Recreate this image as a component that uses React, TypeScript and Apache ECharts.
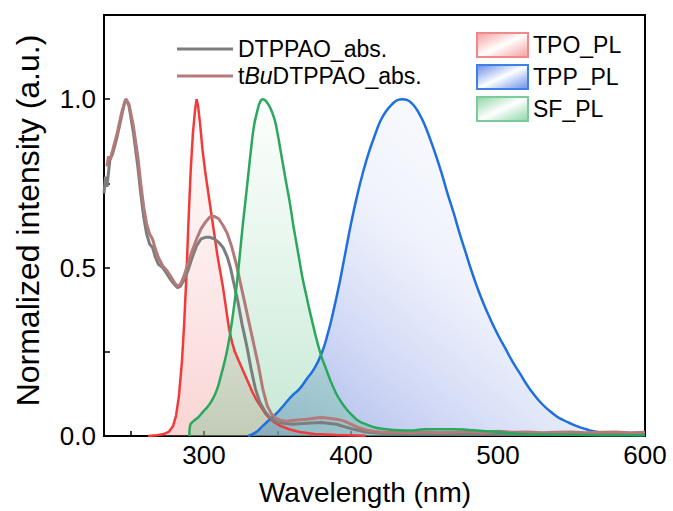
import React, { useEffect, useRef } from "react";
import * as echarts from "echarts";

const FONT = "'Liberation Sans', Arial, Helvetica, sans-serif";

// wavelength ticks / labels
const xTickValues = [250, 300, 350, 400, 450, 500, 550, 600];
const xLabelValues = [300, 400, 500, 600];

// absorption spectra [wavelength nm, normalized intensity]
const dtppaoAbs: [number, number][] = [
  [232, 0.72], [233, 0.77], [234, 0.74], [235, 0.78], [236, 0.82], [238, 0.84], [241, 0.89],
  [244, 0.95], [246, 0.99], [247, 1.0], [249, 0.98], [252, 0.9], [255, 0.8], [257, 0.72],
  [259, 0.65], [261, 0.6], [263, 0.57], [265, 0.56], [267, 0.53], [269, 0.51], [272, 0.5],
  [275, 0.48], [278, 0.46], [280, 0.45], [282, 0.44], [284, 0.445], [286, 0.46], [289, 0.49],
  [292, 0.53], [295, 0.565], [298, 0.585], [301, 0.59], [304, 0.59], [307, 0.585], [310, 0.575],
  [313, 0.56], [316, 0.53], [318, 0.5], [320, 0.46], [323, 0.4], [326, 0.33], [329, 0.27],
  [332, 0.2], [335, 0.14], [338, 0.1], [342, 0.07], [346, 0.05], [350, 0.04], [360, 0.035],
  [370, 0.038], [380, 0.04], [390, 0.035], [400, 0.022], [410, 0.012], [420, 0.008], [440, 0.007],
  [460, 0.008], [480, 0.006], [500, 0.007], [520, 0.006], [540, 0.005], [560, 0.006], [580, 0.005],
  [600, 0.005],
];

const tbuAbs: [number, number][] = [
  [234, 0.8], [235, 0.83], [236, 0.82], [238, 0.85], [241, 0.9], [244, 0.96], [246, 0.99],
  [247, 1.0], [249, 0.985], [252, 0.92], [255, 0.83], [257, 0.75], [259, 0.68], [261, 0.63],
  [263, 0.6], [265, 0.585], [267, 0.555], [269, 0.53], [272, 0.505], [275, 0.49], [278, 0.47],
  [280, 0.455], [282, 0.445], [284, 0.45], [286, 0.47], [289, 0.51], [292, 0.55], [295, 0.585],
  [298, 0.615], [301, 0.635], [304, 0.65], [307, 0.652], [310, 0.645], [313, 0.625], [316, 0.6],
  [319, 0.56], [322, 0.51], [325, 0.45], [328, 0.39], [331, 0.33], [334, 0.27], [337, 0.21],
  [340, 0.14], [343, 0.09], [346, 0.065], [349, 0.052], [352, 0.047], [356, 0.044], [360, 0.046],
  [365, 0.048], [370, 0.05], [375, 0.053], [380, 0.055], [385, 0.053], [390, 0.05], [395, 0.045],
  [400, 0.035], [405, 0.025], [410, 0.018], [415, 0.014], [420, 0.012], [430, 0.011], [440, 0.01],
  [450, 0.012], [460, 0.01], [470, 0.011], [480, 0.013], [490, 0.01], [500, 0.014], [510, 0.011],
  [520, 0.012], [530, 0.01], [540, 0.011], [550, 0.012], [560, 0.01], [570, 0.011], [580, 0.012],
  [590, 0.01], [600, 0.011],
];

// photoluminescence spectra
const tpoPL: [number, number][] = [
  [262, 0], [268, 0.002], [272, 0.005], [276, 0.012], [279, 0.03], [281, 0.06], [283, 0.12],
  [285, 0.22], [286.5, 0.33], [288, 0.47], [289.5, 0.64], [291, 0.79], [292.5, 0.9], [294, 0.97],
  [295, 1.0], [296, 0.98], [297.5, 0.92], [299, 0.85], [301, 0.78], [303, 0.72], [305, 0.66],
  [307, 0.6], [309, 0.54], [311, 0.49], [313, 0.44], [315, 0.38], [317, 0.32], [319, 0.28],
  [321, 0.25], [324, 0.22], [327, 0.19], [330, 0.16], [333, 0.13], [336, 0.105], [339, 0.085],
  [342, 0.065], [345, 0.05], [348, 0.04], [352, 0.03], [358, 0.02], [365, 0.012], [375, 0.006],
  [390, 0.003], [410, 0.001],
];

const tppPL: [number, number][] = [
  [330, 0], [335, 0.01], [340, 0.03], [345, 0.05], [350, 0.07], [355, 0.095], [360, 0.12],
  [365, 0.14], [370, 0.17], [375, 0.2], [380, 0.245], [384, 0.3], [388, 0.37], [392, 0.45],
  [396, 0.54], [400, 0.63], [404, 0.71], [408, 0.78], [412, 0.84], [416, 0.89], [420, 0.935],
  [424, 0.965], [428, 0.985], [432, 0.998], [435, 1.0], [438, 0.998], [442, 0.985], [446, 0.96],
  [450, 0.925], [454, 0.88], [458, 0.83], [462, 0.775], [466, 0.715], [470, 0.66], [474, 0.6],
  [478, 0.545], [482, 0.49], [486, 0.44], [490, 0.395], [495, 0.345], [500, 0.3], [505, 0.26],
  [510, 0.22], [515, 0.185], [520, 0.15], [525, 0.12], [530, 0.095], [535, 0.075], [540, 0.058],
  [545, 0.046], [550, 0.036], [555, 0.027], [560, 0.02], [565, 0.014], [570, 0.01], [580, 0.006],
  [590, 0.004], [600, 0.003],
];

const sfPL: [number, number][] = [
  [290, 0], [290.5, 0.03], [293, 0.045], [296, 0.055], [299, 0.07], [303, 0.09], [306, 0.11],
  [309, 0.14], [311, 0.17], [314, 0.22], [316, 0.26], [318, 0.31], [320, 0.37], [322, 0.44],
  [324, 0.52], [326, 0.61], [328, 0.69], [330, 0.77], [332, 0.85], [334, 0.92], [336, 0.96],
  [338, 0.99], [340, 1.0], [342, 0.995], [345, 0.975], [348, 0.94], [350, 0.9], [352, 0.85],
  [354, 0.8], [356, 0.75], [358.5, 0.69], [361, 0.62], [363, 0.57], [365, 0.52], [367, 0.47],
  [370, 0.41], [372, 0.37], [375, 0.315], [377, 0.28], [380, 0.235], [383, 0.2], [386, 0.165],
  [389, 0.135], [392, 0.11], [396, 0.085], [400, 0.065], [405, 0.045], [410, 0.035], [415, 0.027],
  [420, 0.022], [430, 0.018], [440, 0.016], [450, 0.02], [460, 0.02], [470, 0.02], [480, 0.018],
  [490, 0.015], [500, 0.012], [510, 0.008], [520, 0.005], [540, 0.004], [560, 0.003], [580, 0.002],
  [600, 0.002],
];

const absNames = ["DTPPAO_abs.", "tBuDTPPAO_abs."];

const grad = (x: number, y: number, x2: number, y2: number, stops: [number, string][]) =>
  new echarts.graphic.LinearGradient(
    x, y, x2, y2,
    stops.map(([offset, color]) => ({ offset, color }))
  );

export default function App() {
  const ref = useRef<HTMLDivElement>(null);

  useEffect(() => {
    if (!ref.current) return;
    const chart = echarts.init(ref.current, null, { renderer: "svg" });

    const tpoFill = grad(0, 0, 0, 1, [[0, "rgba(255,246,246,0.35)"], [1, "rgba(240,120,120,0.45)"]]);
    const sfFill = grad(0, 0, 0, 1, [[0, "rgba(240,252,245,0.35)"], [1, "rgba(90,190,130,0.5)"]]);
    const tppFill = grad(0, 1, 1, 0, [[0, "rgba(100,125,220,0.85)"], [0.5, "rgba(220,227,248,0.65)"], [1, "rgba(255,255,255,0.3)"]]);

    const legendBox = (c: string, border: string) => ({
      color: grad(0, 0, 1, 1, [[0, c], [0.5, "#ffffff"], [1, c]]),
      borderColor: border,
      borderWidth: 2,
    });

    chart.setOption({
      animation: false,
      backgroundColor: "#ffffff",
      textStyle: { fontFamily: FONT },
      grid: {
        left: 104, right: 28, top: 15, bottom: 74,
        show: true, borderColor: "#000", borderWidth: 2, backgroundColor: "transparent",
      },
      legend: [
        {
          data: [
            { name: absNames[0], icon: "rect", itemStyle: { color: "#7d7d7d", borderWidth: 0 } },
            { name: absNames[1], icon: "rect", itemStyle: { color: "#b47a7a", borderWidth: 0 } },
          ],
          orient: "vertical",
          left: 172,
          top: 32,
          itemWidth: 56,
          itemHeight: 3,
          itemGap: 3,
          textStyle: {
            fontSize: 23, color: "#000", fontFamily: FONT, lineHeight: 24,
            rich: { it: { fontStyle: "italic", fontSize: 23, fontFamily: FONT, color: "#000" } },
          },
          formatter: (name: string) => (name === "tBuDTPPAO_abs." ? "t{it|Bu}DTPPAO_abs." : name),
        },
        {
          data: [
            { name: "TPO_PL", icon: "rect", itemStyle: legendBox("rgba(245,150,150,0.9)", "#f08a8a") },
            { name: "TPP_PL", icon: "rect", itemStyle: legendBox("rgba(90,130,230,0.9)", "#3f7fe6") },
            { name: "SF_PL", icon: "rect", itemStyle: legendBox("rgba(130,210,160,0.9)", "#7cc99a") },
          ],
          orient: "vertical",
          left: 471,
          top: 27,
          itemWidth: 51,
          itemHeight: 24,
          itemGap: 6,
          textStyle: { fontSize: 23, color: "#000", fontFamily: FONT, lineHeight: 24 },
        },
      ],
      xAxis: {
        type: "value",
        min: 232,
        max: 600,
        name: "Wavelength (nm)",
        nameLocation: "middle",
        nameGap: 42,
        nameTextStyle: { fontSize: 28, color: "#000", fontFamily: FONT, padding: [0, 19, 0, 0] },
        axisLine: { show: true, lineStyle: { color: "#000", width: 2 } },
        axisTick: { show: true, inside: true, length: 5, customValues: xTickValues, lineStyle: { color: "#000", width: 1.5 } },
        axisLabel: { customValues: xLabelValues, fontSize: 26, color: "#000", margin: 6, fontFamily: FONT },
        splitLine: { show: false },
      },
      yAxis: {
        type: "value",
        min: 0,
        max: 1.25,
        interval: 0.25,
        name: "Normalized intensity (a.u.)",
        nameLocation: "middle",
        nameGap: 60,
        nameRotate: 90,
        nameTextStyle: { fontSize: 32, color: "#000", fontFamily: FONT, padding: [0, 0, 0, 10] },
        axisLine: { show: true, lineStyle: { color: "#000", width: 2 } },
        axisTick: { show: true, inside: true, length: 6, lineStyle: { color: "#000", width: 1.5 } },
        axisLabel: {
          fontSize: 26, color: "#000", margin: 8, fontFamily: FONT,
          formatter: (v: number) => (Math.abs(v % 0.5) < 1e-9 && v <= 1 ? v.toFixed(1) : ""),
        },
        splitLine: { show: false },
      },
      series: [
        {
          name: "TPO_PL", type: "line", data: tpoPL, symbol: "none", smooth: false,
          lineStyle: { color: "#f23a3a", width: 2.5 }, itemStyle: { color: "#f23a3a" },
          areaStyle: { color: tpoFill, origin: 0 },
        },
        {
          name: "TPP_PL", type: "line", data: tppPL, symbol: "none", smooth: true,
          lineStyle: { color: "#1e6fdf", width: 2.5 }, itemStyle: { color: "#1e6fdf" },
          areaStyle: { color: tppFill, origin: 0 },
        },
        {
          name: "DTPPAO_abs.", type: "line", data: dtppaoAbs, symbol: "none",
          lineStyle: { color: "#7d7d7d", width: 3 }, itemStyle: { color: "#7d7d7d" },
        },
        {
          name: "tBuDTPPAO_abs.", type: "line", data: tbuAbs, symbol: "none",
          lineStyle: { color: "#b47a7a", width: 3 }, itemStyle: { color: "#b47a7a" },
        },
        {
          name: "SF_PL", type: "line", data: sfPL, symbol: "none", smooth: true,
          lineStyle: { color: "#2aa85e", width: 2.5 }, itemStyle: { color: "#2aa85e" },
          areaStyle: { color: sfFill, origin: 0 },
        },
      ],
    });

    return () => chart.dispose();
  }, []);

  return <div ref={ref} style={{ width: 673, height: 511, position: "absolute", left: 0, top: 0 }} />;
}
